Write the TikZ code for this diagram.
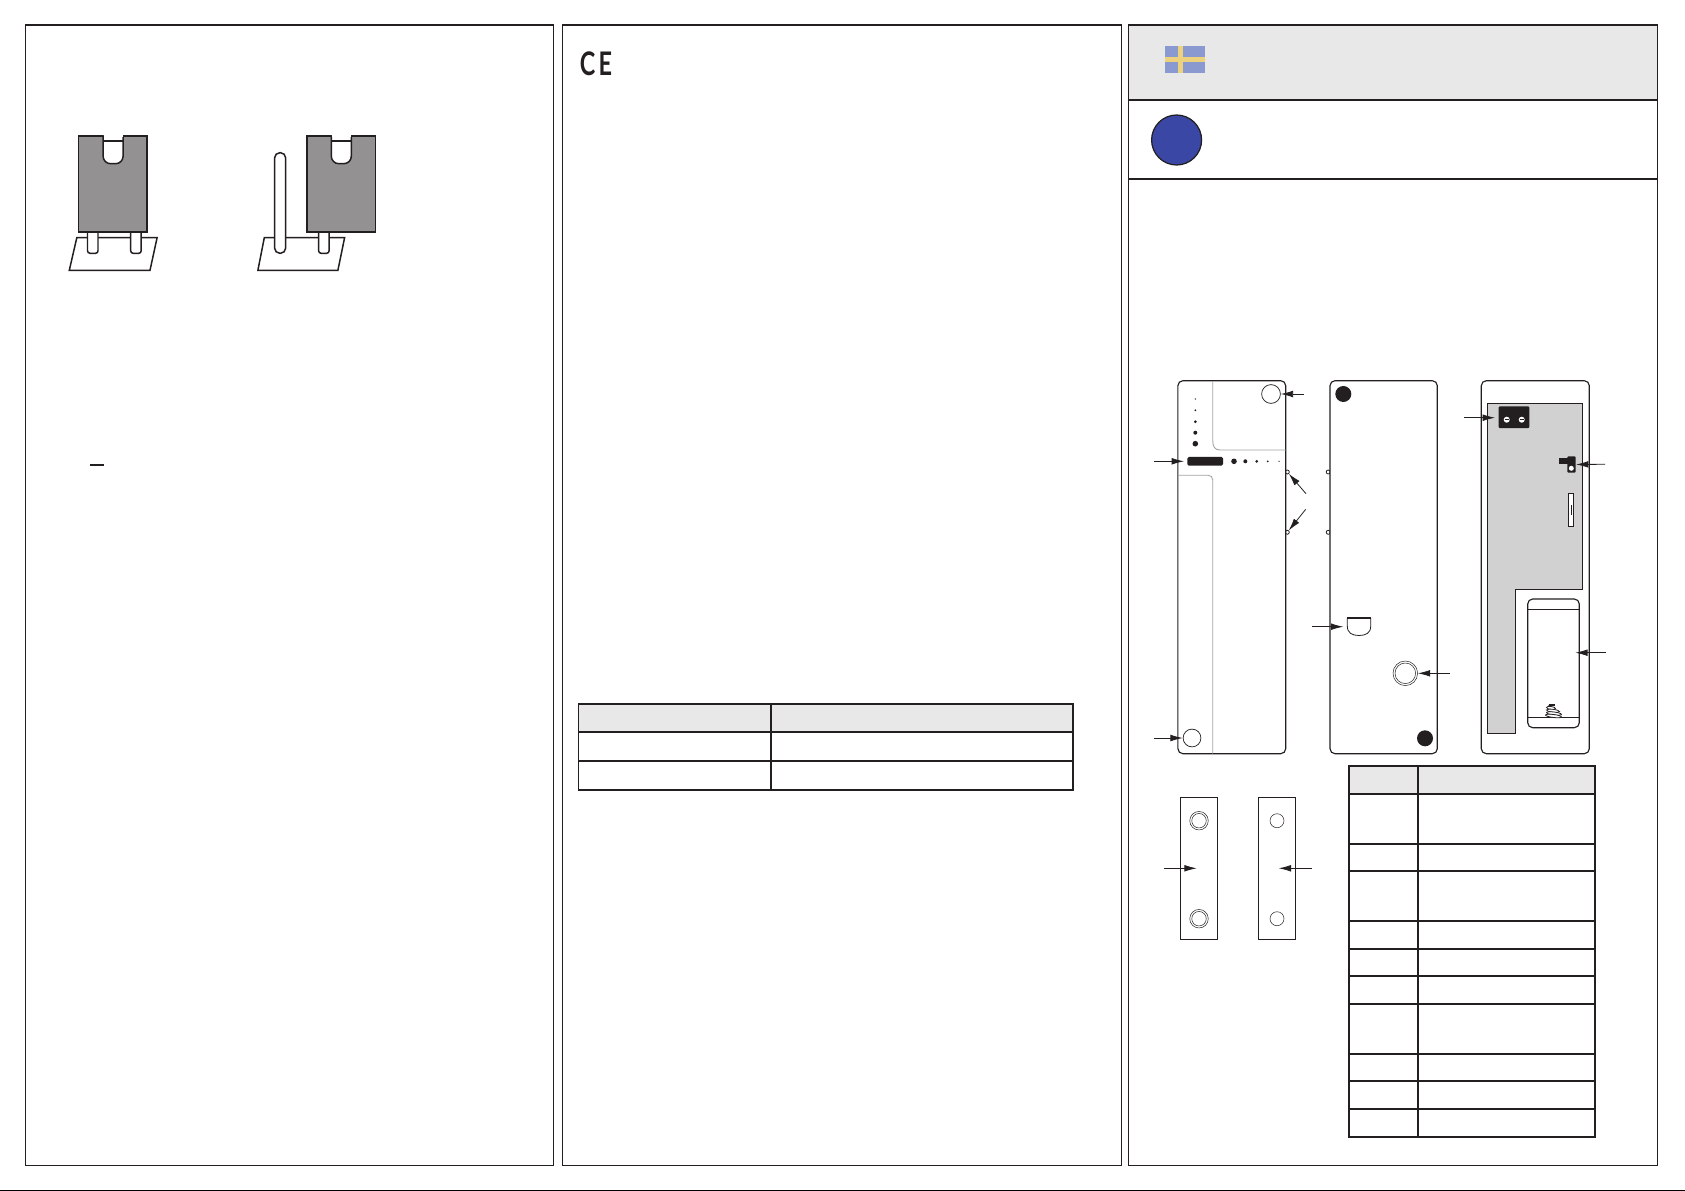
\documentclass[tikz,border=0pt]{standalone}
\usepackage{fontspec}
\usetikzlibrary{arrows.meta}
\definecolor{ink}{HTML}{231F20}
\definecolor{jumpergrey}{HTML}{939192}
\definecolor{headgrey}{HTML}{E8E8E8}
\definecolor{boardgrey}{HTML}{D1D1D1}
\definecolor{seamgrey}{HTML}{A3A3A3}
\definecolor{flagblue}{HTML}{8A99CF}
\definecolor{flagyellow}{HTML}{ECD27C}
\definecolor{dotblue}{HTML}{3A47A4}
\newfontfamily\cefont{Lato}

\begin{document}
\begin{tikzpicture}[x=0.2mm, y=-0.2mm, line join=miter]
		\tikzstyle{panel}=[draw=ink, line width=0.6pt];
		\tikzstyle{rule}=[draw=ink, line width=1.1pt];
		\tikzstyle{cell}=[draw=ink, line width=1pt];
		\tikzstyle{outline}=[draw=ink, line width=0.65pt, fill=white];
		\tikzstyle{jumper}=[draw=ink, line width=0.85pt];
		\tikzstyle{seam}=[draw=seamgrey, line width=0.5pt];
		\tikzstyle{callout}=[draw=ink, line width=0.45pt, -{Latex[length=7pt, width=3.8pt]}];
		\tikzstyle{ring}=[circle, draw=ink, line width=0.4pt, fill=white, inner sep=0pt];
		\tikzstyle{thinring}=[circle, draw=ink, line width=0.28pt, fill=white, inner sep=0pt];
		\tikzstyle{blob}=[circle, fill=ink, inner sep=0pt];
		\tikzstyle{peg}=[circle, draw=ink, line width=0.45pt, fill=white, inner sep=0pt, minimum size=0.8mm];
		\tikzstyle{shell}=[outline, rounded corners=1mm];

		\useasboundingbox (0,0) rectangle (1685,1191);
		\fill[white] (0,0) rectangle (1685,1191);

		% panels
		\fill[headgrey] (1128.3,24.7) rectangle (1657.7,100);
		\draw[panel] (25.5,25) rectangle (553.4,1165.5);
		\draw[panel] (562.5,25) rectangle (1121.5,1165.5);
		\draw[panel] (1128.6,25) rectangle (1657.7,1165.5);
		\draw[rule] (1128.3,100) -- (1657.7,100);
		\draw[rule] (1128.3,179) -- (1657.7,179);
		\draw[draw=black, line width=0.9pt] (0,1190.3) -- (1685,1190.3);

		% jumpers
		\draw[outline, jumper] (76.8,237.7) -- (157.1,237.7) -- (150,270.3) -- (69.3,270.3) -- cycle;
		\draw[outline, jumper] (264.3,237.7) -- (344.6,237.7) -- (337.9,270.3) -- (257.9,270.3) -- cycle;
		\foreach \px in {87.5,130.7,318.6}
			\draw[outline, jumper, rounded corners=0.5mm] (\px,225) -- (\px,253.3) -- (\px+10.5,253.3) -- (\px+10.5,225);
		\draw[outline, jumper, rounded corners=1.05mm] (274.6,253.3) -- (274.6,152.7) -- (285.7,152.7) -- (285.7,253.3) -- cycle;
		\foreach \bx in {78.6,306.8} {
			\fill[jumpergrey] (\bx,136) rectangle (\bx+68.5,232);
			\draw[jumper] (\bx,136) rectangle (\bx+68.5,232);
			\draw[outline, jumper, rounded corners=1.5mm] (\bx+24.5,136) -- (\bx+24.5,163.7) -- (\bx+44.5,163.7) -- (\bx+44.5,136);
			\draw[jumper] (\bx+24.5,141) -- (\bx+44.5,141);
			\draw[white, line width=1pt] (\bx+25,136) -- (\bx+44,136);
		}
		\draw[ink, line width=1.1pt] (90,464.7) -- (104,464.7);

		% ce mark
		\node[inner sep=0pt, xscale=0.72, font=\cefont\bfseries\fontsize{18.5}{18.5}\selectfont, text=ink] (ce) at (596,63.5) {C\kern2.5pt E};

		% small table
		\fill[headgrey] (578.6,704) rectangle (1073.2,731.7);
		\draw[cell] (578.6,704) rectangle (1073.2,790);
		\draw[cell] (771,704) -- (771,790);
		\foreach \ry in {731.7,760.7}
			\draw[cell] (578.6,\ry) -- (1073.2,\ry);

		% flag and dot
		\fill[flagblue] (1165,46) rectangle (1204.5,73);
		\fill[flagyellow] (1178,46) rectangle (1183,73);
		\fill[flagyellow] (1165,56.7) rectangle (1204.5,62);
		\node[circle, draw=ink, line width=0.7pt, fill=dotblue, inner sep=0pt, minimum size=1cm] (dot) at (1176.6,140) {};

		% front of the unit
		\node[peg] (pegA) at (1287.3,472) {};
		\node[peg] (pegB) at (1287.3,532.3) {};
		\draw[shell] (1177.9,380.7) rectangle (1285.7,753.7);
		\draw[seam] (1212.7,381) -- (1212.7,440) .. controls (1212.7,447) and (1215,450) .. (1220,450) -- (1285.7,450);
		\draw[seam] (1178,475.3) -- (1208,475.3) .. controls (1211,475.3) and (1212.7,477) .. (1212.7,480) -- (1212.7,753.7);
		\node[ring, minimum size=19pt*0.563] (lensA) at (1271,394) {};
		\node[ring, minimum size=18pt*0.563] (lensB) at (1192,738) {};
		\node[rectangle, fill=ink, rounded corners=0.3mm, inner sep=0pt, minimum width=7.14mm, minimum height=1.74mm] (slot) at (1205.2,461.3) {};
		\foreach \dotx/\doty/\dotr in {1195.3/399/0.7, 1195.3/410.3/1, 1195.3/421.7/1.5, 1195.3/432.7/2, 1195.3/443.7/2.8, 1234/461.3/2.8, 1245.3/461.3/2, 1256.7/461.3/1.5, 1267.7/461.3/1, 1279/461.3/0.7}
			\fill[ink] (\dotx,\doty) circle[radius=\dotr*0.2mm];

		% back of the unit
		\node[peg] (pegC) at (1328.2,472) {};
		\node[peg] (pegD) at (1328.2,532.3) {};
		\draw[shell] (1330,380.7) rectangle (1437.3,753.7);
		\node[blob, minimum size=3.2mm] (holeA) at (1343.3,394) {};
		\node[blob, minimum size=3.2mm] (holeB) at (1425,738.3) {};
		\draw[outline, line width=0.45pt] (1347.3,618) -- (1347.3,626) .. controls (1347.3,633) and (1352,635.5) .. (1359,635.5) .. controls (1366,635.5) and (1370.7,633) .. (1370.7,626) -- (1370.7,618);
		\draw[ink, line width=1.1pt] (1347.3,618) -- (1370.7,618);
		\node[thinring, minimum size=24.6*0.2mm] (tamperA) at (1405.3,673.3) {};
		\node[thinring, minimum size=20.6*0.2mm] (tamperB) at (1405.3,673.3) {};
		\coordinate (keyhole) at (1343.3,626.7);

		% inside of the unit
		\draw[shell] (1481.3,380.7) rectangle (1589.3,753.7);
		\draw[draw=ink, line width=0.6pt, fill=boardgrey] (1487.7,403.3) -- (1582.7,403.3) -- (1582.7,589.3) -- (1515.7,589.3) -- (1515.7,733.3) -- (1487.7,733.3) -- cycle;
		\node[rectangle, fill=ink, rounded corners=0.2mm, inner sep=0pt, minimum width=6.12mm, minimum height=4.34mm] (block) at (1514,417.2) {};
		\foreach \hx in {1506.7,1521.7} {
			\fill[white] (\hx,419.7) circle[radius=0.6mm];
			\draw[ink, line width=0.4pt] (\hx-1.8,419.7) -- (\hx+1.8,419.7);
		}
		\fill[ink] (1559,457.7) rectangle (1569,463.7);
		\node[rectangle, fill=ink, rounded corners=0.2mm, inner sep=0pt, minimum width=1.68mm, minimum height=3.28mm] (switch) at (1571.5,464.5) {};
		\fill[white] (1571.3,468.3) circle[radius=0.5mm];
		\draw[draw=ink, line width=0.5pt, fill=white] (1568.3,493.3) rectangle (1573.7,526.3);
		\draw[ink, line width=0.3pt] (1571,505) -- (1571,515);
		\draw[shell] (1527.7,599) rectangle (1579.3,727.7);
		\draw[ink, line width=0.45pt] (1527.7,609) -- (1579.3,609);
		\draw[ink, line width=0.45pt] (1527.7,717.3) -- (1579.3,717.3);
		\fill[ink] (1549,703.5) rectangle (1555,705.7);
		\draw[ink, line width=0.45pt] (1549,705) -- (1548,709);
		\foreach \sx/\sy/\sw in {1551/708/4.5, 1553/710.8/6.5, 1554/713.5/7.5, 1553.5/716/8}
			\draw[ink, line width=0.45pt, fill=white, rotate around={-7:(\sx,\sy)}] (\sx,\sy) ellipse[x radius=\sw*0.2mm, y radius=0.3mm];
		\coordinate (socket) at (1495,417.7);
		\coordinate (cell) at (1575.3,652.7);

		% magnet
		\draw[outline] (1180.3,797.3) rectangle (1217.7,939.7);
		\draw[outline] (1258.3,797.3) rectangle (1295.7,939.7);
		\foreach \my in {820.7,918.7} {
			\node[thinring, minimum size=3.7mm] (magA\my) at (1199,\my) {};
			\node[thinring, minimum size=2.9mm] (magB\my) at (1199,\my) {};
			\node[thinring, minimum size=2.8mm] (magC\my) at (1277,\my) {};
		}
		\coordinate (magnet) at (1196.7,868.3);
		\coordinate (contact) at (1278.7,868.3);

		% big table
		\fill[headgrey] (1348.7,765.7) rectangle (1595.3,793.7);
		\draw[cell] (1348.7,765.7) rectangle (1595.3,1137);
		\draw[cell] (1417.7,765.7) -- (1417.7,1137);
		\foreach \ry in {793.7,844,871,921,949,976,1004,1054,1081,1109}
			\draw[cell] (1348.7,\ry) -- (1595.3,\ry);

		% free ends of the arrows
		\coordinate (fromLensA) at (1304,394);
		\coordinate (fromSlot) at (1154,461.3);
		\coordinate (fromPegA) at (1306,493.7);
		\coordinate (fromPegB) at (1305.7,509.3);
		\coordinate (fromLensB) at (1154,738);
		\coordinate (fromKeyhole) at (1312,626.7);
		\coordinate (fromTamper) at (1450,673.3);
		\coordinate (fromSocket) at (1464,417.7);
		\coordinate (fromSwitch) at (1605,464.3);
		\coordinate (fromCell) at (1606,652.7);
		\coordinate (fromMagnet) at (1164,868.3);
		\coordinate (fromContact) at (1312,868.3);

		\draw[callout] (fromLensA) -- (lensA);
		\draw[callout, shorten >=0.6mm] (fromSlot) -- (slot);
		\draw[callout] (fromPegA) -- (pegA);
		\draw[callout] (fromPegB) -- (pegB);
		\draw[callout] (fromLensB) -- (lensB);
		\draw[callout] (fromKeyhole) -- (keyhole);
		\draw[callout] (fromTamper) -- (tamperA);
		\draw[callout] (fromSocket) -- (socket);
		\draw[callout] (fromSwitch) -- (switch);
		\draw[callout] (fromCell) -- (cell);
		\draw[callout] (fromMagnet) -- (magnet);
		\draw[callout] (fromContact) -- (contact);
	\end{tikzpicture}
\end{document}
